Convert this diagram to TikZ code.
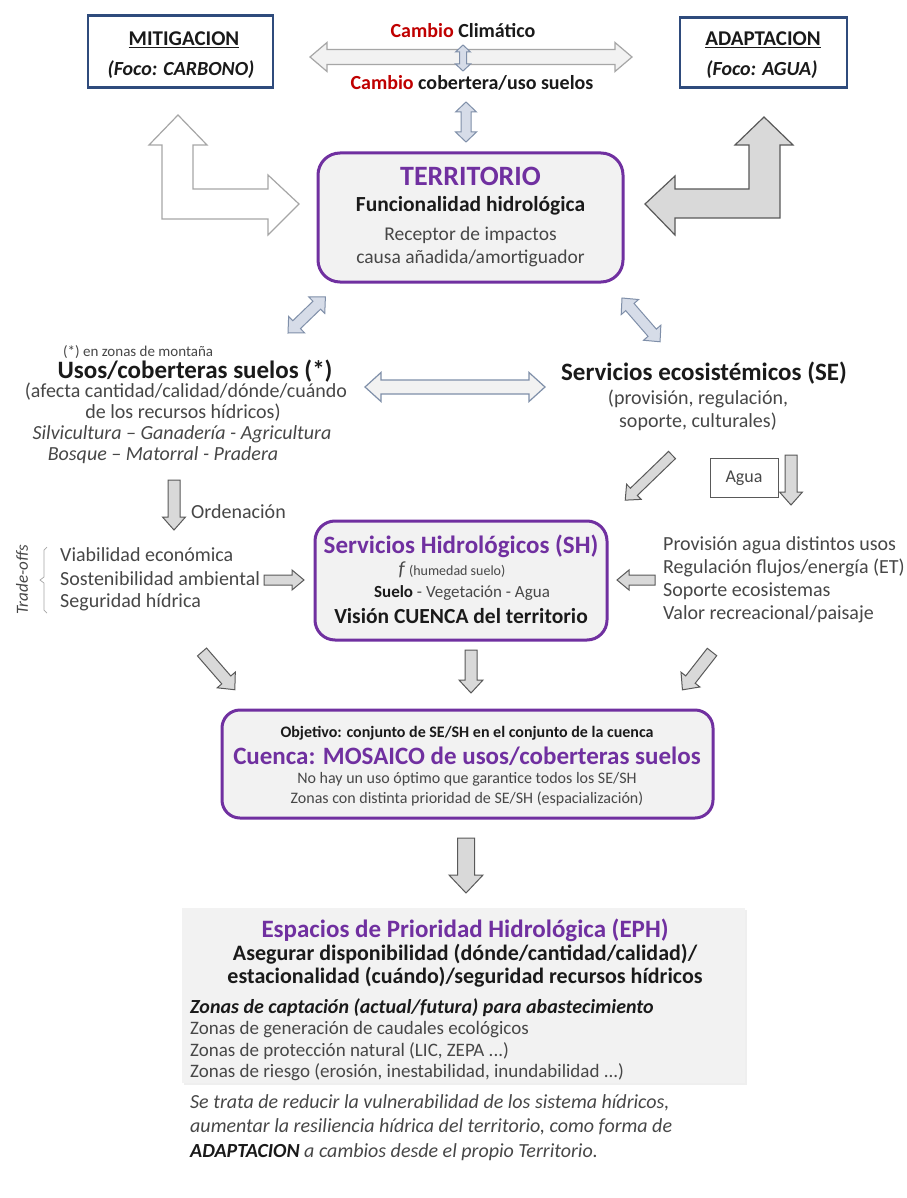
\documentclass[tikz,border=0pt]{standalone}
\usepackage{fontspec}
\setmainfont{Carlito}
\usetikzlibrary{shadows}
\definecolor{purp}{HTML}{7030A0}
\definecolor{navy}{HTML}{2F4B7C}
\definecolor{redc}{HTML}{C00000}
\definecolor{txt}{HTML}{474747}
\definecolor{txtb}{HTML}{1A1A1A}
\definecolor{boxfill}{HTML}{F2F2F2}
\definecolor{agray}{HTML}{595959}
\definecolor{afill}{HTML}{D9D9D9}
\definecolor{lgray}{HTML}{A6A6A6}
\definecolor{bgfill}{HTML}{D6DCE8}
\definecolor{bgline}{HTML}{7F8FA9}
\newcommand\myfs[1]{\fontsize{#1}{#1}\selectfont}
\begin{document}
\begin{tikzpicture}[x=1pt,y=-1pt,
  lbl/.style={inner sep=0pt, text=txt, font=\myfs{20}},
  blbl/.style={inner sep=0pt, text=txtb, font=\myfs{20}\bfseries},
  topbox/.style={draw=navy, line width=2.5pt, fill=white, inner sep=0pt},
  rbox/.style={draw=purp, line width=3pt, fill=boxfill, rounded corners=20pt, inner sep=0pt},
  garr/.style={draw=agray, fill=afill, line width=1pt, line join=miter},
  barr/.style={draw=bgline, fill=bgfill, line width=1pt, line join=miter},
  pics/sarrow/.style n args={4}{code={
    \path[pic actions] (0,-#2/2) -- ({#1-#4},-#2/2) -- ({#1-#4},-#3/2) -- (#1,0)
      -- ({#1-#4},#3/2) -- ({#1-#4},#2/2) -- (0,#2/2) -- cycle;}},
  pics/darrow/.style n args={4}{code={
    \path[pic actions] (0,0) -- (#4,-#3/2) -- (#4,-#2/2) -- ({#1-#4},-#2/2) -- ({#1-#4},-#3/2)
      -- (#1,0) -- ({#1-#4},#3/2) -- ({#1-#4},#2/2) -- (#4,#2/2) -- (#4,#3/2) -- cycle;}},
]
\useasboundingbox (0,0) rectangle (906,1198);
\fill[white] (0,0) rectangle (906,1198);

% ---------- top boxes ----------
\node[topbox, minimum width=185, minimum height=72] (mit) at (180.5,51.5) {};
\node[blbl, font=\myfs{21}\bfseries] (mitt) at (184,40) {\underline{MITIGACION}};
\node[blbl, font=\myfs{20}\bfseries\itshape] (mitf) at (181,70) {(Foco: CARBONO)};
\node[topbox, minimum width=167, minimum height=70] (ada) at (763.5,52.5) {};
\node[blbl, font=\myfs{21}\bfseries] (adat) at (763,40) {\underline{ADAPTACION}};
\node[blbl, font=\myfs{20}\bfseries\itshape] (adaf) at (762,70) {(Foco: AGUA)};

% ---------- top centre ----------
\pic[draw=lgray, fill=boxfill, line width=1.2pt, line join=miter] (hdbl) at (310,57) {darrow={322}{15}{29}{17}};
\pic[barr, rotate=-90] (vsm) at (463,45) {darrow={26}{7}{15}{7}};
\node[blbl, font=\myfs{20}\bfseries] (cc) at (463,31) {\textcolor{redc}{Cambio} Climático};
\node[blbl, font=\myfs{20}\bfseries] (cu) at (472,83) {\textcolor{redc}{Cambio} cobertera/uso suelos};
\pic[barr, rotate=-90] (vup) at (466,102) {darrow={40}{10}{21}{10}};

% ---------- TERRITORIO ----------
\node[rbox, minimum width=305, minimum height=129, rounded corners=22pt] (terr) at (470.5,217.5) {};
\node[blbl, text=purp, font=\myfs{28}\bfseries] (terr1) at (470.5,176) {TERRITORIO};
\node[blbl, font=\myfs{21.5}\bfseries] (terr2) at (470.5,206) {Funcionalidad hidrológica};
\node[lbl, font=\myfs{19.5}] (terr3) at (470.5,235) {Receptor de impactos};
\node[lbl, font=\myfs{19.5}] (terr4) at (470.5,258) {causa añadida/amortiguador};

% ---------- L arrows ----------
\draw[line width=1.2pt, draw=lgray, fill=white, line join=miter]
  (178,115) -- (207,145) -- (193,145) -- (193,189) -- (268,189) -- (268,175) -- (299,204)
  -- (268,235) -- (268,219) -- (162,219) -- (162,145) -- (149,145) -- cycle;
\draw[line width=1.2pt, draw=agray, fill=afill, line join=miter]
  (764,117) -- (793,145) -- (780,145) -- (780,218) -- (675,218) -- (675,235) -- (645,204)
  -- (675,176) -- (675,189) -- (749,189) -- (749,145) -- (735,145) -- cycle;

% ---------- diagonal double arrows ----------
\pic[barr, rotate=44] (dl) at (288,333) {darrow={52}{11}{23}{12}};
\pic[barr, rotate=-49] (dr) at (622,298) {darrow={58}{11}{23}{12}};

% ---------- left column ----------
\node[lbl, anchor=west, font=\myfs{15}] (mont) at (63,352) {(*) en zonas de montaña};
\node[blbl, font=\myfs{25}\bfseries] (usos) at (195,371) {Usos/coberteras suelos (*)};
\node[lbl] (usos2) at (186,392) {(afecta cantidad/calidad/dónde/cuándo};
\node[lbl] (usos3) at (183,413) {de los recursos hídricos)};
\node[lbl, font=\myfs{20}\itshape] (usos4) at (182,434) {Silvicultura – Ganadería - Agricultura};
\node[lbl, font=\myfs{20}\itshape] (usos5) at (163,455) {Bosque – Matorral - Pradera};

% mid horizontal double arrow
\pic[draw=bgline, fill=boxfill, line width=1.2pt, line join=miter] (mid) at (365,387) {darrow={180}{14}{29}{16}};

% ---------- SE ----------
\node[blbl, font=\myfs{25}\bfseries] (se) at (704,373) {Servicios ecosistémicos (SE)};
\node[lbl] (se2) at (698,399) {(provisión, regulación,};
\node[lbl] (se3) at (698,422) {soporte, culturales)};

% ordenacion
\pic[garr, rotate=-90] (ord) at (174,480) {sarrow={50}{12}{23}{13}};
\node[lbl, anchor=west] (ordt) at (191,512) {Ordenación};

% trade-offs
\node[lbl, font=\myfs{17}\itshape, rotate=90] (trade) at (22,580) {Trade-offs};
\draw[lgray, line width=0.7pt] (47,547) -- (44,550) -- (44,577) -- (40,580) -- (44,583) -- (44,610) -- (47,613);
\node[lbl, anchor=west] (tr1) at (60,555) {Viabilidad económica};
\node[lbl, anchor=west] (tr2) at (60,579) {Sostenibilidad ambiental};
\node[lbl, anchor=west] (tr3) at (60,602) {Seguridad hídrica};
\pic[garr] (trarr) at (264,580) {sarrow={40}{10}{20}{12}};

% ---------- SH box ----------
\node[rbox, minimum width=292, minimum height=119] (sh) at (461,580.5) {};
\node[blbl, text=purp, font=\myfs{25}\bfseries] (sh1) at (461,546) {Servicios Hidrológicos (SH)};
\node[lbl] (sh2) at (452,570) {\textit{\myfs{20}f}\,\myfs{14}(humedad suelo)};
\node[lbl, font=\myfs{17}] (sh3) at (462,593) {\textbf{\textcolor{txtb}{Suelo}} - Vegetación - Agua};
\node[blbl, font=\myfs{21.5}\bfseries] (sh4) at (461,616) {Visión CUENCA del territorio};

% ---------- right list ----------
\pic[garr, rotate=180] (rlarr) at (655,580) {sarrow={38}{10}{20}{12}};
\node[lbl, anchor=west] (rl1) at (663,545) {Provisión agua distintos usos};
\node[lbl, anchor=west] (rl2) at (663,568) {Regulación flujos/energía (ET)};
\node[lbl, anchor=west] (rl3) at (663,591) {Soporte ecosistemas};
\node[lbl, anchor=west] (rl4) at (663,614) {Valor recreacional/paisaje};

% SE -> SH and Agua
\pic[garr, rotate=-136] (sesh) at (672,455) {sarrow={65}{10}{21}{12}};
\node[draw=agray, line width=1pt, fill=white, minimum width=68, minimum height=39, inner sep=0pt] (agua) at (744,477.5) {};
\node[lbl, font=\myfs{18}] (aguat) at (744,478) {Agua};
\pic[garr, rotate=-90] (aguarr) at (791,455) {sarrow={50}{12}{23}{13}};

% ---------- arrows to mosaic ----------
\pic[garr, rotate=-49] (b1) at (202,652) {sarrow={50}{12}{24}{13}};
\pic[garr, rotate=-90] (b2) at (471,650) {sarrow={43}{12}{24}{13}};
\pic[garr, rotate=-128] (b3) at (712,652) {sarrow={48}{12}{24}{13}};

% ---------- mosaic box ----------
\node[rbox, minimum width=491, minimum height=108, rounded corners=18pt] (mos) at (467.5,764) {};
\node[blbl, font=\myfs{16}\bfseries] (mos1) at (467,733) {Objetivo: conjunto de SE/SH en el conjunto de la cuenca};
\node[blbl, text=purp, font=\myfs{25}\bfseries] (mos2) at (467,756) {Cuenca: MOSAICO de usos/coberteras suelos};
\node[lbl, font=\myfs{16}] (mos3) at (467,779) {No hay un uso óptimo que garantice todos los SE/SH};
\node[lbl, font=\myfs{16}] (mos4) at (467,799) {Zonas con distinta prioridad de SE/SH (espacialización)};

\pic[garr, rotate=-90] (down) at (466,838) {sarrow={55}{17}{34}{18}};

% ---------- EPH box ----------
\node[fill=boxfill, minimum width=563, minimum height=175, inner sep=0pt,
      drop shadow={opacity=0.12, shadow xshift=2pt, shadow yshift=-2pt}] (eph) at (463.5,995.5) {};
\node[blbl, text=purp, font=\myfs{25}\bfseries] (eph1) at (465,930) {Espacios de Prioridad Hidrológica (EPH)};
\node[blbl, font=\myfs{22}\bfseries] (eph2) at (465,954) {Asegurar disponibilidad (dónde/cantidad/calidad)/};
\node[blbl, font=\myfs{22}\bfseries] (eph3) at (465,977) {estacionalidad (cuándo)/seguridad recursos hídricos};
\node[blbl, anchor=west, font=\myfs{20}\bfseries\itshape] (eph4) at (190,1008) {Zonas de captación (actual/futura) para abastecimiento};
\node[lbl, anchor=west, font=\myfs{19}] (eph5) at (190,1030) {Zonas de generación de caudales ecológicos};
\node[lbl, anchor=west, font=\myfs{19}] (eph6) at (190,1051) {Zonas de protección natural (LIC, ZEPA ...)};
\node[lbl, anchor=west, font=\myfs{19}] (eph7) at (190,1072) {Zonas de riesgo (erosión, inestabilidad, inundabilidad ...)};

% ---------- bottom paragraph ----------
\node[lbl, anchor=west, font=\myfs{20}\itshape] (p1) at (190,1103) {Se trata de reducir la vulnerabilidad de los sistema hídricos,};
\node[lbl, anchor=west, font=\myfs{20}\itshape] (p2) at (190,1127) {aumentar la resiliencia hídrica del territorio, como forma de};
\node[lbl, anchor=west, font=\myfs{20}\itshape] (p3) at (190,1152) {\textbf{\textcolor{txtb}{ADAPTACION}} a cambios desde el propio Territorio.};
\end{tikzpicture}
\end{document}
